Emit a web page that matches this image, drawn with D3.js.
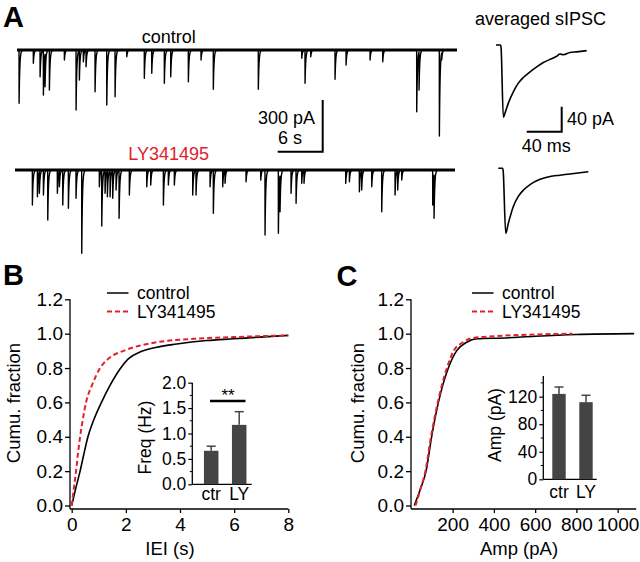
<!DOCTYPE html>
<html><head><meta charset="utf-8">
<script src="https://cdn.jsdelivr.net/npm/d3@7"></script>
<style>
body{margin:0;background:#fff}
svg{display:block}
text{font-family:"Liberation Sans",Arial,Helvetica,sans-serif;fill:#000}
</style>
</head><body>
<svg id="c" width="640" height="562"></svg>
<script>
// ---------------- DATA ----------------
// Panel A: spontaneous events [time (s), amplitude (pA)]
const ctrlEvents = [[0.27,309],[2.17,77],[3.07,155],[3.51,261],[3.73,213],[4.31,232],[6.31,58],[7.87,348],[8.31,174],[8.84,68],[9.2,97],[10.4,242],[11.96,319],[13.07,271],[14.63,39],[16.97,164],[17.96,135],[19.64,193],[20.49,155],[22.84,184],[24.53,58],[26.17,228],[32.17,228],[37.96,48],[38.4,193],[39.16,39],[42.4,170],[43.87,87],[47.07,58],[48.76,68],[53.29,358],[53.6,232],[56.31,499],[56.62,58]];
const lyEvents = [[2.31,203],[2.98,155],[3.24,135],[3.78,145],[4.36,290],[5.64,135],[5.91,97],[6.36,203],[7.11,222],[8.13,164],[8.89,483],[11.24,97],[11.56,325],[12.0,135],[12.31,155],[12.67,155],[13.02,164],[13.47,116],[13.87,280],[15.24,145],[17.56,97],[18.09,87],[19.78,203],[20.44,87],[21.24,87],[23.69,145],[24.13,145],[26.0,97],[26.44,251],[27.69,97],[28.0,77],[30.8,68],[32.76,58],[33.33,377],[35.11,367],[35.33,242],[36.8,135],[37.47,193],[38.22,77],[38.53,77],[44.09,77],[44.58,68],[45.91,126],[46.22,116],[47.56,97],[48.89,242],[50.67,145],[51.02,116],[51.56,58],[55.69,203],[55.87,280]];
const traceDuration = 58.67; // s
// averaged sIPSC [time (ms), current (pA)]
const ctrlAvg = [[0,0],[5.3,0],[5.8,-4],[8.4,-115.7],[10.3,-109],[14.1,-93],[19.8,-75],[25.5,-61],[31.2,-52],[38.9,-43],[46.5,-35],[54.1,-28],[61.7,-23],[69.3,-18],[73.1,-14.5],[76.9,-15.5],[84.6,-12],[92.2,-11],[103.6,-9]];
const lyAvg = [[2.6,0],[7.6,0],[8.2,-4],[11.1,-104],[14.1,-88],[19.8,-61],[25.5,-45],[31.2,-35],[38.9,-26],[46.5,-20],[54.1,-16],[61.7,-13],[73.1,-11],[84.6,-9],[96,-7],[105.5,-5.4]];
// Panel B: cumulative IEI [IEI (s), fraction]
const ieiCtrl = [[0,0],[0.15,0.1],[0.31,0.2],[0.45,0.3],[0.6,0.4],[0.82,0.5],[1.1,0.6],[1.42,0.7],[1.81,0.8],[2.1,0.855],[2.52,0.893],[3.1,0.92],[3.88,0.94],[4.98,0.96],[5.97,0.97],[6.95,0.98],[8,0.99]];
const ieiLY = [[0,0],[0.08,0.1],[0.16,0.2],[0.23,0.3],[0.31,0.4],[0.41,0.5],[0.53,0.6],[0.75,0.7],[1.05,0.8],[1.4,0.86],[1.91,0.9],[2.5,0.93],[3.14,0.95],[4.49,0.97],[5.97,0.98],[8,0.99]];
// Panel C: cumulative amplitude [Amp (pA), fraction]
const ampCtrl = [[14,0],[45,0.1],[71,0.2],[98,0.4],[131,0.6],[179,0.8],[219,0.9],[268,0.95],[317,0.97],[450,0.975],[600,0.985],[800,0.995],[1080,1.0]];
const ampLY = [[20,0],[45,0.1],[68,0.2],[95,0.4],[128,0.6],[172,0.8],[205,0.9],[250,0.95],[300,0.975],[400,0.985],[600,0.995],[780,1.0]];
// insets
const groups = ["ctr","LY"];
const freqMean = [0.66,1.17];
const freqSem = [0.09,0.26];
const ampMean = [124,112];
const ampSem = [10,10];
// tick values
const cdfTicks = [0,0.2,0.4,0.6,0.8,1.0,1.2];
const ieiTicks = [0,2,4,6,8];
const ampTicks = [200,400,600,800,1000];
const freqTicks = [0,0.5,1.0,1.5,2.0];
const freqMinor = [0.25,0.75,1.25,1.75];
const ampInsetTicks = [0,40,80,120];
const ampInsetMinor = [20,60,100,140];

// ---------------- DRAW ----------------
const svg = d3.select("#c");
const RED = "#e3202a";
const BAR = "#444";

function txt(x,y,s,opt={}){
  const t = svg.append("text").attr("x",x).attr("y",y).text(s)
    .style("font-size",(opt.size||18)+"px");
  if(opt.anchor) t.attr("text-anchor",opt.anchor);
  if(opt.bold) t.style("font-weight","bold");
  if(opt.fill) t.style("fill",opt.fill);
  if(opt.rot) t.attr("transform",`rotate(-90 ${x} ${y})`);
  return t;
}

// panel letters
txt(3,26.5,"A",{size:29,bold:true});
txt(3,285,"B",{size:29,bold:true});
txt(336.5,286,"C",{size:29,bold:true});

// ---- Panel A traces ----
function traceData(events, dur, rise, tau){
  const ts = d3.range(0, dur, 0.03);
  events.forEach(([t]) => ts.push(t, t+rise));
  ts.sort((a,b)=>a-b);
  return ts.map(t => {
    let v = 0;
    for(const [te,a] of events){
      const dt = t-te; if(dt<0) continue;
      const c = dt<rise ? a*dt/rise : a*Math.exp(-(dt-rise)/tau);
      if(c>v) v=c;
    }
    return [t,v];
  });
}
function drawTrace(events, x0, base){
  const x = d3.scaleLinear().domain([0,traceDuration]).range([x0,x0+440]);
  const y = d3.scaleLinear().domain([0,300]).range([base,base+51.7]);
  svg.append("line").attr("x1",x(0)).attr("x2",x(traceDuration)).attr("y1",y(0)).attr("y2",y(0))
    .attr("stroke","#000").attr("stroke-width",2.8);
  svg.append("path").datum(traceData(events,traceDuration,0.01,0.09))
    .attr("d",d3.line().x(d=>x(d[0])).y(d=>y(d[1])))
    .attr("fill","none").attr("stroke","#000").attr("stroke-width",1.4).attr("stroke-linejoin","round");
  return {x,y};
}
const tc = drawTrace(ctrlEvents,17,50);
drawTrace(lyEvents,15,170);
txt(141.7,43,"control");
txt(128.3,160,"LY341495",{fill:RED});
// scale bar A
{
  const xe = 322.7, ye = 151.7;
  const w = tc.x(6)-tc.x(0), h = tc.y(300)-tc.y(0);
  svg.append("path").attr("d",`M${xe-w},${ye}H${xe}V${ye-h}`)
    .attr("fill","none").attr("stroke","#000").attr("stroke-width",2);
  txt(315,124,"300 pA",{anchor:"end"});
  txt(302,144,"6 s",{anchor:"end"});
}
// averaged sIPSC
txt(475,25,"averaged sIPSC");
{
  const x = d3.scaleLinear().domain([0,40]).range([496,531]);
  const yc = d3.scaleLinear().domain([0,-40]).range([45,70]);
  const yl = d3.scaleLinear().domain([0,-40]).range([168.3,193.3]);
  svg.append("path").datum(ctrlAvg).attr("d",d3.line().x(d=>x(d[0])).y(d=>yc(d[1])).curve(d3.curveMonotoneX))
    .attr("fill","none").attr("stroke","#000").attr("stroke-width",1.6);
  svg.append("path").datum(lyAvg).attr("d",d3.line().x(d=>x(d[0])).y(d=>yl(d[1])).curve(d3.curveMonotoneX))
    .attr("fill","none").attr("stroke","#000").attr("stroke-width",1.6);
  const xe = 561.7, ye = 131.7;
  const w = x(40)-x(0), h = yc(-40)-yc(0);
  svg.append("path").attr("d",`M${xe-w},${ye}H${xe}V${ye-h}`)
    .attr("fill","none").attr("stroke","#000").attr("stroke-width",2);
  txt(567,125,"40 pA");
  txt(521.7,151.7,"40 ms");
}

// ---- CDF panels ----
function cdfPanel(o){
  const g = svg.append("g");
  const x = d3.scaleLinear().domain(o.xDom).range(o.xRange);
  const y = d3.scaleLinear().domain([0,1.2]).range([505.5,299.3]);
  g.append("line").attr("x1",o.axX).attr("x2",o.axX).attr("y1",y(1.2)).attr("y2",509)
    .attr("stroke","#000").attr("stroke-width",1.3);
  g.append("line").attr("x1",o.axX).attr("x2",o.xEnd).attr("y1",509).attr("y2",509)
    .attr("stroke","#000").attr("stroke-width",1.3);
  const ya = g.append("g").attr("transform",`translate(${o.axX},0)`)
    .call(d3.axisLeft(y).tickValues(cdfTicks).tickFormat(d3.format(".1f")).tickSize(5).tickPadding(2));
  const xa = g.append("g").attr("transform",`translate(0,509)`)
    .call(d3.axisBottom(x).tickValues(o.xTicks).tickFormat(d3.format("d")).tickSize(4).tickPadding(5));
  [ya,xa].forEach(a=>{
    a.select(".domain").remove();
    a.selectAll("line").attr("stroke-width",1.3);
    a.selectAll("text").style("font-size","19px").style("font-family",'"Liberation Sans",Arial,sans-serif');
  });
  const line = d3.line().x(d=>x(d[0])).y(d=>y(d[1])).curve(d3.curveMonotoneX);
  g.append("path").datum(o.ctrl).attr("d",line).attr("fill","none").attr("stroke","#000").attr("stroke-width",1.6);
  g.append("path").datum(o.ly).attr("d",line).attr("fill","none").attr("stroke",RED).attr("stroke-width",2)
    .attr("stroke-dasharray","5,3");
  // legend
  g.append("line").attr("x1",o.legX).attr("x2",o.legX+21.5).attr("y1",293).attr("y2",293).attr("stroke","#000").attr("stroke-width",1.5);
  g.append("line").attr("x1",o.legX).attr("x2",o.legX+21.5).attr("y1",311.5).attr("y2",311.5).attr("stroke",RED).attr("stroke-width",2).attr("stroke-dasharray","5,3");
  txt(o.legX+30,298.5,"control",{size:17.5});
  txt(o.legX+30,318,"LY341495",{size:17.5});
  txt(o.yLabX,403,"Cumu. fraction",{anchor:"middle",rot:true,size:18.5});
  txt(o.xLabX,555,o.xLab,{anchor:"middle",size:18.5});
}
cdfPanel({xDom:[0,8],xRange:[71.7,288.3],axX:70,xEnd:288.3,xTicks:ieiTicks,ctrl:ieiCtrl,ly:ieiLY,legX:107,yLabX:19.5,xLabX:170,xLab:"IEI (s)"});
cdfPanel({xDom:[0,1090],xRange:[411.4,636.2],axX:411,xEnd:636.2,xTicks:ampTicks,ctrl:ampCtrl,ly:ampLY,legX:472,yLabX:364,xLabX:519,xLab:"Amp (pA)"});

// ---- insets ----
function inset(o){
  const g = svg.append("g");
  const y = d3.scaleLinear().domain(o.yDom).range(o.yRange);
  const x = d3.scalePoint().domain(groups).range(o.xCenters);
  g.append("line").attr("x1",o.axX).attr("x2",o.axX).attr("y1",o.yRange[1]).attr("y2",o.yRange[0])
    .attr("stroke","#000").attr("stroke-width",1.3);
  g.append("line").attr("x1",o.axX).attr("x2",o.xEnd).attr("y1",o.yRange[0]).attr("y2",o.yRange[0])
    .attr("stroke","#000").attr("stroke-width",1.3);
  const ya = g.append("g").attr("transform",`translate(${o.axX},0)`)
    .call(d3.axisLeft(y).tickValues(o.ticks).tickFormat(o.fmt).tickSize(4).tickPadding(2));
  ya.select(".domain").remove();
  ya.selectAll("line").attr("stroke-width",1.2);
  ya.selectAll("text").style("font-size","17.5px").style("font-family",'"Liberation Sans",Arial,sans-serif');
  g.selectAll("line.minor").data(o.minor).join("line").attr("class","minor")
    .attr("x1",o.axX-2.5).attr("x2",o.axX).attr("y1",d=>y(d)).attr("y2",d=>y(d)).attr("stroke","#000").attr("stroke-width",1);
  g.selectAll("rect.bar").data(groups).join("rect").attr("class","bar")
    .attr("x",d=>x(d)-o.bw/2).attr("width",o.bw)
    .attr("y",(d,i)=>y(o.mean[i])).attr("height",(d,i)=>y(0)-y(o.mean[i])).attr("fill",BAR);
  groups.forEach((d,i)=>{
    const top = y(o.mean[i]+o.sem[i]);
    g.append("line").attr("x1",x(d)).attr("x2",x(d)).attr("y1",y(o.mean[i])).attr("y2",top).attr("stroke",BAR).attr("stroke-width",1.5);
    g.append("line").attr("x1",x(d)-4.5).attr("x2",x(d)+4.5).attr("y1",top).attr("y2",top).attr("stroke",BAR).attr("stroke-width",1.5);
    txt(x(d),o.labY,d,{anchor:"middle",size:17.5});
  });
  txt(o.yLabX,o.yLabY,o.yLab,{anchor:"middle",rot:true,size:17.5});
  return {x,y,g};
}
const ib = inset({yDom:[0,2],yRange:[484.3,382.7],xCenters:[211.2,239.2],axX:192.3,xEnd:251.7,bw:14.5,
  ticks:freqTicks,minor:freqMinor,fmt:d3.format(".1f"),mean:freqMean,sem:freqSem,labY:500,
  yLabX:151.3,yLabY:437.5,yLab:"Freq (Hz)"});
svg.append("line").attr("x1",210).attr("x2",245.5).attr("y1",ib.y(1.64)).attr("y2",ib.y(1.64)).attr("stroke","#000").attr("stroke-width",2.5);
txt(228,401,"**",{anchor:"middle",size:17});
inset({yDom:[0,150],yRange:[479.3,376],xCenters:[559,586],axX:543.3,xEnd:596.7,bw:13.4,
  ticks:ampInsetTicks,minor:ampInsetMinor,fmt:d3.format("d"),mean:ampMean,sem:ampSem,labY:497.5,
  yLabX:501,yLabY:425,yLab:"Amp (pA)"});
</script>
</body></html>
